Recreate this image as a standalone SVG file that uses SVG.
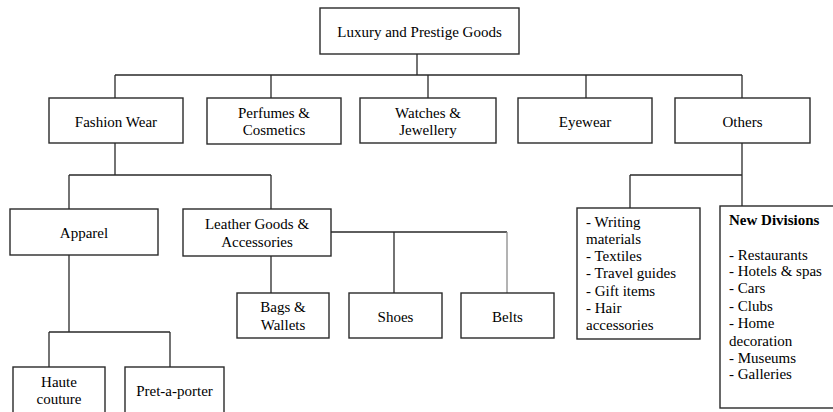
<svg xmlns="http://www.w3.org/2000/svg" width="833" height="412" viewBox="0 0 833 412">
<style>
rect{fill:#fff;stroke:#2a2a2a;stroke-width:1.4}
#connectors path{fill:none;stroke:#2a2a2a;stroke-width:1.3}
#connectors path.g{stroke:#8a8a8a}
text{font-family:"Liberation Serif","Times New Roman","DejaVu Serif",serif;font-size:15px;fill:#000}
.c{text-anchor:middle}
.b{font-weight:bold}
</style>
<rect x="0" y="0" width="833" height="412" style="stroke:none"/>
<g id="connectors">
<path d="M417 54V75M115 75H742M115 75V98M271 75V98M428 75V98M586 75V98M742 75V98"/>
<path d="M115 143V175M69 175H271M69 175V209M271 175V209"/>
<path d="M331 232H507M394 232V293M271 256V293"/>
<path class="g" d="M507 232V293"/>
<path d="M69 255V332M49 332H170M49 332V367M170 332V367"/>
<path d="M742 143V206M630 175H742M630 175V208"/>
</g>
<g id="root"><rect x="320" y="8" width="199" height="46"/><text class="c" x="419.5" y="37">Luxury and Prestige Goods</text></g>
<g id="fashion"><rect x="49" y="98" width="134" height="45"/><text class="c" x="116" y="127">Fashion Wear</text></g>
<g id="perfumes"><rect x="207" y="98" width="134" height="46"/><text class="c" x="274" y="118">Perfumes &amp;</text><text class="c" x="274" y="135">Cosmetics</text></g>
<g id="watches"><rect x="360" y="98" width="136" height="45"/><text class="c" x="428" y="118">Watches &amp;</text><text class="c" x="428" y="135">Jewellery</text></g>
<g id="eyewear"><rect x="518" y="98" width="134" height="45"/><text class="c" x="585" y="127">Eyewear</text></g>
<g id="others"><rect x="675" y="98" width="135" height="45"/><text class="c" x="742.5" y="127">Others</text></g>
<g id="apparel"><rect x="10" y="209" width="148" height="46"/><text class="c" x="84" y="238">Apparel</text></g>
<g id="leather"><rect x="183" y="209" width="148" height="47"/><text class="c" x="257" y="229">Leather Goods &amp;</text><text class="c" x="257" y="247">Accessories</text></g>
<g id="bags"><rect x="237" y="293" width="92" height="45"/><text class="c" x="283" y="312">Bags &amp;</text><text class="c" x="283" y="330">Wallets</text></g>
<g id="shoes"><rect x="349" y="293" width="93" height="45"/><text class="c" x="395.5" y="322">Shoes</text></g>
<g id="belts"><rect x="461" y="293" width="93" height="45"/><text class="c" x="507.5" y="322">Belts</text></g>
<g id="haute"><rect x="13" y="367" width="92" height="55"/><text class="c" x="59" y="387">Haute</text><text class="c" x="59" y="404">couture</text></g>
<g id="pret"><rect x="125" y="367" width="99" height="55"/><text class="c" x="174.5" y="396">Pret-a-porter</text></g>
<g id="misc"><rect x="577" y="208" width="123" height="131"/>
<text x="586" y="227">- Writing</text><text x="586" y="244">materials</text><text x="586" y="261">- Textiles</text><text x="586" y="278">- Travel guides</text><text x="586" y="296">- Gift items</text><text x="586" y="313">- Hair</text><text x="586" y="330">accessories</text></g>
<g id="newdiv"><rect x="720" y="206" width="130" height="202"/>
<text class="b" x="729" y="225">New Divisions</text>
<text x="729" y="260">- Restaurants</text><text x="729" y="276">- Hotels &amp; spas</text><text x="729" y="293">- Cars</text><text x="729" y="311">- Clubs</text><text x="729" y="328">- Home</text><text x="729" y="346">decoration</text><text x="729" y="363">- Museums</text><text x="729" y="379">- Galleries</text></g>
</svg>
